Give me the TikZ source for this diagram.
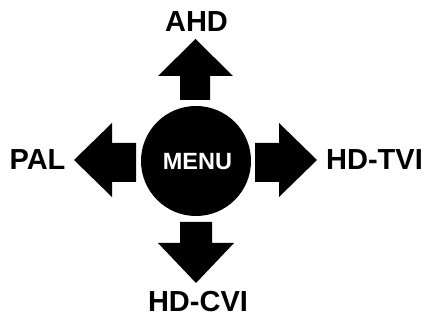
\documentclass[tikz,border=0pt]{standalone}
\usepackage{fontspec}
\setmainfont{Liberation Sans}
\begin{document}
\begin{tikzpicture}[x=1pt,y=-1pt,
  lbl/.style={font=\bfseries\fontsize{29}{30}\selectfont, inner sep=0pt, anchor=base},
  arr/.style={fill=black, draw=none}]
\useasboundingbox (0,0) rectangle (429,320);
% central button
\node[circle, fill=black, minimum size=110pt, inner sep=0pt] (menu) at (196,161) {};
\node[font=\bfseries\fontsize{23.5}{24}\selectfont, text=white, inner sep=0pt, anchor=base] (menutxt) at (197.5,170) {MENU};
% arrows
\fill[arr] (180,100) -- (180,76) -- (158,76) -- (195.5,39) -- (233,76) -- (210,76) -- (210,100) -- cycle;
\fill[arr] (180,222) -- (180,243) -- (158,243) -- (196,283) -- (234,243) -- (212,243) -- (212,222) -- cycle;
\fill[arr] (255,143) -- (279,143) -- (279,123) -- (317,160) -- (279,197) -- (279,182) -- (255,182) -- cycle;
\fill[arr] (136,143) -- (112,143) -- (112,123) -- (74,160) -- (112,197) -- (112,182) -- (136,182) -- cycle;
% labels
\node[lbl] (ahd) at (196.5,32) {AHD};
\node[lbl] (pal) at (37.5,170) {PAL};
\node[lbl] (tvi) at (374.5,170) {HD-TVI};
\node[lbl] (cvi) at (198,312) {HD-CVI};
\end{tikzpicture}
\end{document}
